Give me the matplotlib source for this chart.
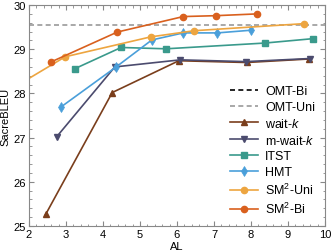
import numpy as np
import matplotlib.pyplot as plt
from matplotlib.ticker import MultipleLocator

plt.rcParams['font.family'] = ['Liberation Sans', 'DejaVu Sans']
plt.rcParams['mathtext.fontset'] = 'custom'
plt.rcParams['mathtext.it'] = 'Liberation Sans:italic'
plt.rcParams['mathtext.rm'] = 'Liberation Sans'

# data
omt_bi = 30.3
omt_uni = 29.55

waitk_al = [2.45, 4.25, 6.05, 7.88, 9.58]
waitk_bleu = [25.26, 28.02, 28.74, 28.70, 28.78]

mwaitk_al = [2.75, 4.32, 6.09, 7.86, 9.59]
mwaitk_bleu = [27.02, 28.60, 28.76, 28.72, 28.79]

itst_al = [3.24, 4.49, 5.70, 8.37, 9.68]
itst_bleu = [28.56, 29.04, 29.01, 29.14, 29.24]

hmt_al = [2.86, 4.34, 5.32, 6.17, 7.09, 7.99]
hmt_bleu = [27.69, 28.59, 29.21, 29.37, 29.37, 29.43]

uni_al = [1.9, 2.98, 5.29, 6.47, 9.44]
uni_bleu = [28.29, 28.83, 29.28, 29.42, 29.58]

bi_al = [2.59, 4.39, 6.17, 7.05, 8.16]
bi_bleu = [28.71, 29.39, 29.74, 29.76, 29.80]

fig = plt.figure(figsize=(3.33, 2.53), dpi=100)
ax = fig.add_axes([0.087, 0.103, 0.889, 0.873])

ax.axhline(omt_bi, color='black', ls=(0, (3, 2)), lw=1.2, label='OMT-Bi')
ax.axhline(omt_uni, color='#999999', ls=(0, (3, 2)), lw=1.2, label='OMT-Uni')

ax.plot(waitk_al, waitk_bleu, color='#7A3E1C', marker='^', ms=4.5, lw=1.2,
        label='wait-$k$')
ax.plot(mwaitk_al, mwaitk_bleu, color='#4B4B6E', marker='v', ms=4.5, lw=1.2,
        label='m-wait-$k$')
ax.plot(itst_al, itst_bleu, color='#3A9A8C', marker='s', ms=4.5, lw=1.2,
        label='ITST')
ax.plot(hmt_al, hmt_bleu, color='#4A9FDA', marker='d', ms=5, mew=0.5, lw=1.2,
        label='HMT')
ax.plot(uni_al, uni_bleu, color='#EDA540', marker='o', ms=4.5, lw=1.2,
        label='SM$^2$-Uni')
ax.plot(bi_al, bi_bleu, color='#D9601E', marker='o', ms=4.5, lw=1.2,
        label='SM$^2$-Bi')

ax.set_xlim(2, 10)
ax.set_ylim(25, 30)
ax.xaxis.set_major_locator(MultipleLocator(1))
ax.xaxis.set_minor_locator(MultipleLocator(0.2))
ax.yaxis.set_major_locator(MultipleLocator(1))
ax.yaxis.set_minor_locator(MultipleLocator(0.2))
ax.tick_params(which='both', direction='in', top=True, right=True,
               color='#888888', labelsize=8, pad=2)
ax.tick_params(which='major', length=3.5)
ax.tick_params(which='minor', length=1.8)
for s in ax.spines.values():
    s.set_color('#888888')
    s.set_linewidth(0.8)

ax.set_xlabel('AL', fontsize=8, labelpad=2)
ax.set_ylabel('SacreBLEU', fontsize=8, labelpad=2)

ax.legend(loc='lower right', frameon=False, fontsize=9, handlelength=2.2,
          labelspacing=0.3, borderaxespad=0.4, handletextpad=0.6,
          bbox_to_anchor=(1.0, 0.0))

fig.savefig('out.png', dpi=100)
